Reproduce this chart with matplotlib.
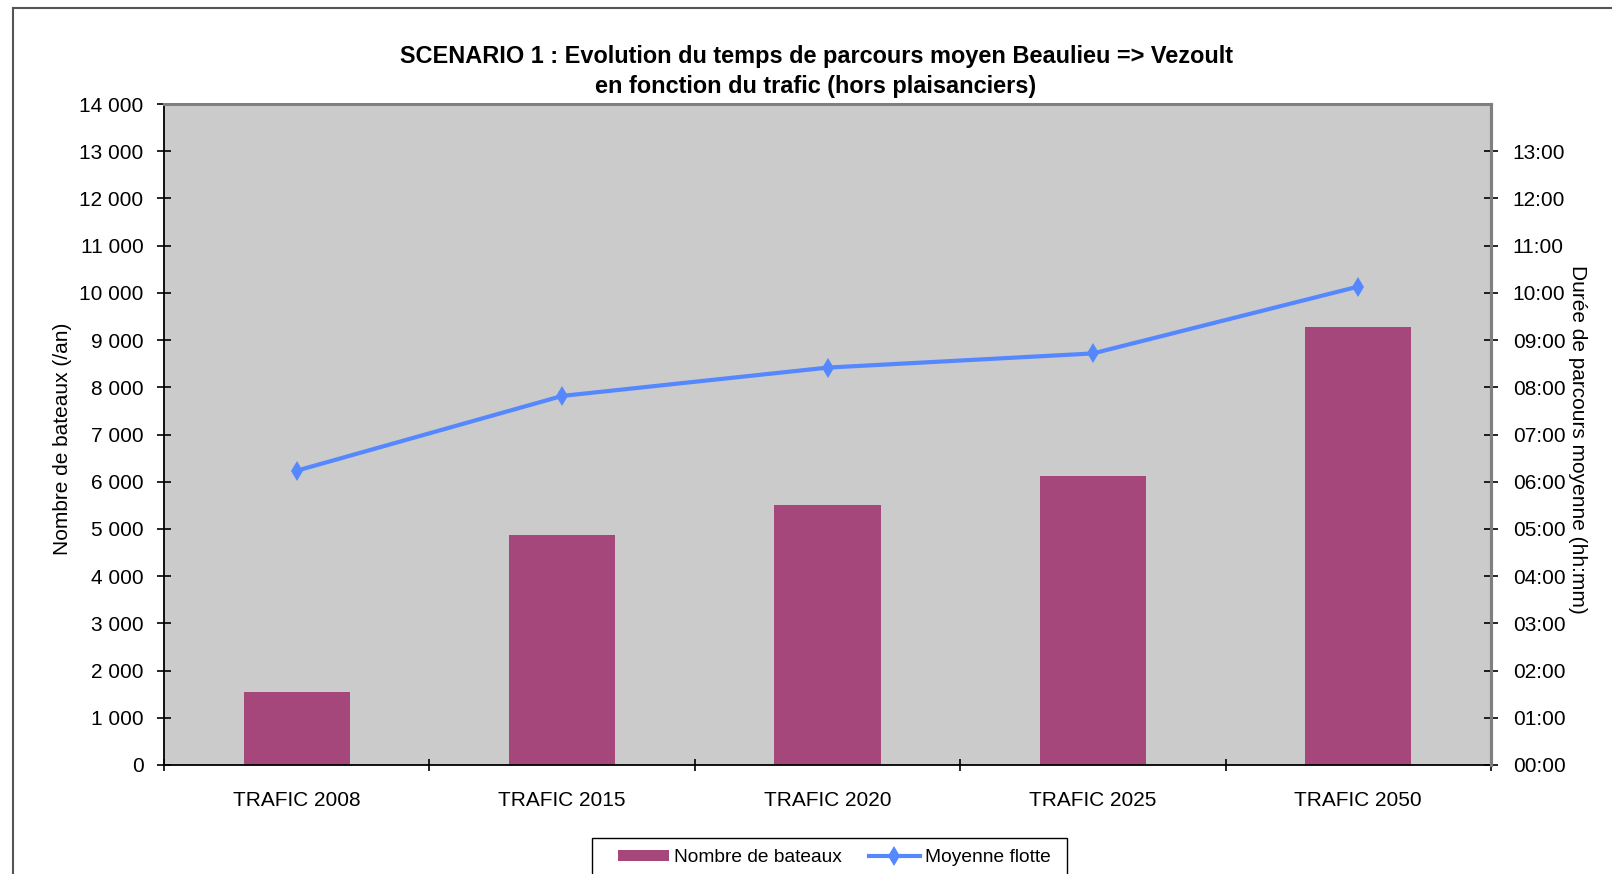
import matplotlib
matplotlib.use('Agg')
import matplotlib.pyplot as plt
from matplotlib.patches import Patch, Rectangle
from matplotlib.lines import Line2D
from matplotlib.ticker import FixedLocator, FuncFormatter

plt.rcParams['font.family'] = ['Liberation Sans', 'DejaVu Sans']

# données
categories = ['TRAFIC 2008', 'TRAFIC 2015', 'TRAFIC 2020', 'TRAFIC 2025', 'TRAFIC 2050']
nb_bateaux = [1540, 4870, 5500, 6125, 9275]
duree_moyenne = ['06:14', '07:49', '08:25', '08:43', '10:08']  # hh:mm

y_left_ticks = list(range(0, 14001, 1000))
y_right_ticks = list(range(0, 14))


def to_hours(s):
    h, m = s.split(':')
    return int(h) + int(m) / 60.0


heures = [to_hours(s) for s in duree_moyenne]

W, H = 1612, 874
fig = plt.figure(figsize=(W / 100, H / 100), dpi=100)

# zone de traçage (pixels -> fraction)
x0, x1, y0, y1 = 164, 1491, 104, 765
ax = fig.add_axes([x0 / W, 1 - y1 / H, (x1 - x0) / W, (y1 - y0) / H])
ax.set_facecolor('#CBCBCB')

bar_color = '#A5477A'
line_color = '#5588FF'
fs = 15

xs = list(range(len(categories)))
ax.bar(xs, nb_bateaux, width=0.4, color=bar_color, zorder=2)
ax.set_xlim(-0.5, len(categories) - 0.5)
ax.set_ylim(0, 14000)
ax.yaxis.set_major_locator(FixedLocator(y_left_ticks))
ax.yaxis.set_major_formatter(FuncFormatter(lambda v, p: f'{int(v):,}'.replace(',', ' ')))
ax.set_xticks(xs)
ax.set_xticklabels(categories)
ax.set_xticks([i - 0.5 for i in range(len(categories) + 1)], minor=True)
ax.tick_params(axis='x', which='major', length=0, pad=19, labelsize=fs)
ax.tick_params(axis='x', which='minor', direction='inout', length=9, width=1.2)
ax.tick_params(axis='y', direction='inout', length=9.5, width=1.2, pad=10, labelsize=fs)

for s in ['top', 'right']:
    ax.spines[s].set_color('#7F7F7F')
    ax.spines[s].set_linewidth(2.2)
for s in ['left', 'bottom']:
    ax.spines[s].set_color('black')
    ax.spines[s].set_linewidth(1.3)

# axe secondaire : durée
ax2 = ax.twinx()
ax2.plot(xs, heures, color=line_color, lw=3, marker='d', markersize=10,
         markeredgewidth=0, zorder=3)
ax2.set_ylim(0, 14)
ax2.yaxis.set_major_locator(FixedLocator(y_right_ticks))
ax2.yaxis.set_major_formatter(FuncFormatter(lambda v, p: f'{int(v):02d}:00'))
ax2.tick_params(axis='y', direction='inout', length=9.5, width=1.2, pad=11, labelsize=fs)
for s in ['left', 'top', 'bottom']:
    ax2.spines[s].set_visible(False)
ax2.spines['right'].set_color('#7F7F7F')
ax2.spines['right'].set_linewidth(2.2)

# titres
fig.text(816 / W, 1 - 57 / H, 'SCENARIO 1 : Evolution du temps de parcours moyen Beaulieu => Vezoult',
         ha='center', va='center', fontsize=16.9, fontweight='bold')
fig.text(816 / W, 1 - 86 / H, 'en fonction du trafic (hors plaisanciers)',
         ha='center', va='center', fontsize=16.9, fontweight='bold')
fig.text(62 / W, 1 - 439 / H, 'Nombre de bateaux (/an)', rotation=90,
         ha='center', va='center', fontsize=fs)
fig.text(1578 / W, 1 - 439 / H, 'Durée de parcours moyenne (hh:mm)', rotation=270,
         ha='center', va='center', fontsize=fs)

# légende (cadre dessiné à part)
fig.add_artist(Rectangle((592 / W, -0.05), 475 / W, 1 - 838 / H + 0.05,
                         transform=fig.transFigure, facecolor='white',
                         edgecolor='black', lw=1.0))
handles = [Patch(facecolor=bar_color, edgecolor='none'),
           Line2D([], [], color=line_color, lw=3, marker='d', markersize=10, markeredgewidth=0)]
fig.legend(handles, ['Nombre de bateaux', 'Moyenne flotte'], ncol=2,
           loc='center left', bbox_to_anchor=(618 / W, 1 - 858 / H),
           fontsize=13.8, frameon=False, handlelength=2.66, handleheight=0.5,
           handletextpad=0.26, columnspacing=1.4, borderpad=0, borderaxespad=0)

# cadre extérieur
fig.add_artist(Line2D([13 / W, 13 / W], [0, 1 - 7.5 / H], color='#555555', lw=1.5))
fig.add_artist(Line2D([13 / W, 1], [1 - 7.5 / H, 1 - 7.5 / H], color='#555555', lw=1.5))

fig.savefig('out.png', dpi=100)
